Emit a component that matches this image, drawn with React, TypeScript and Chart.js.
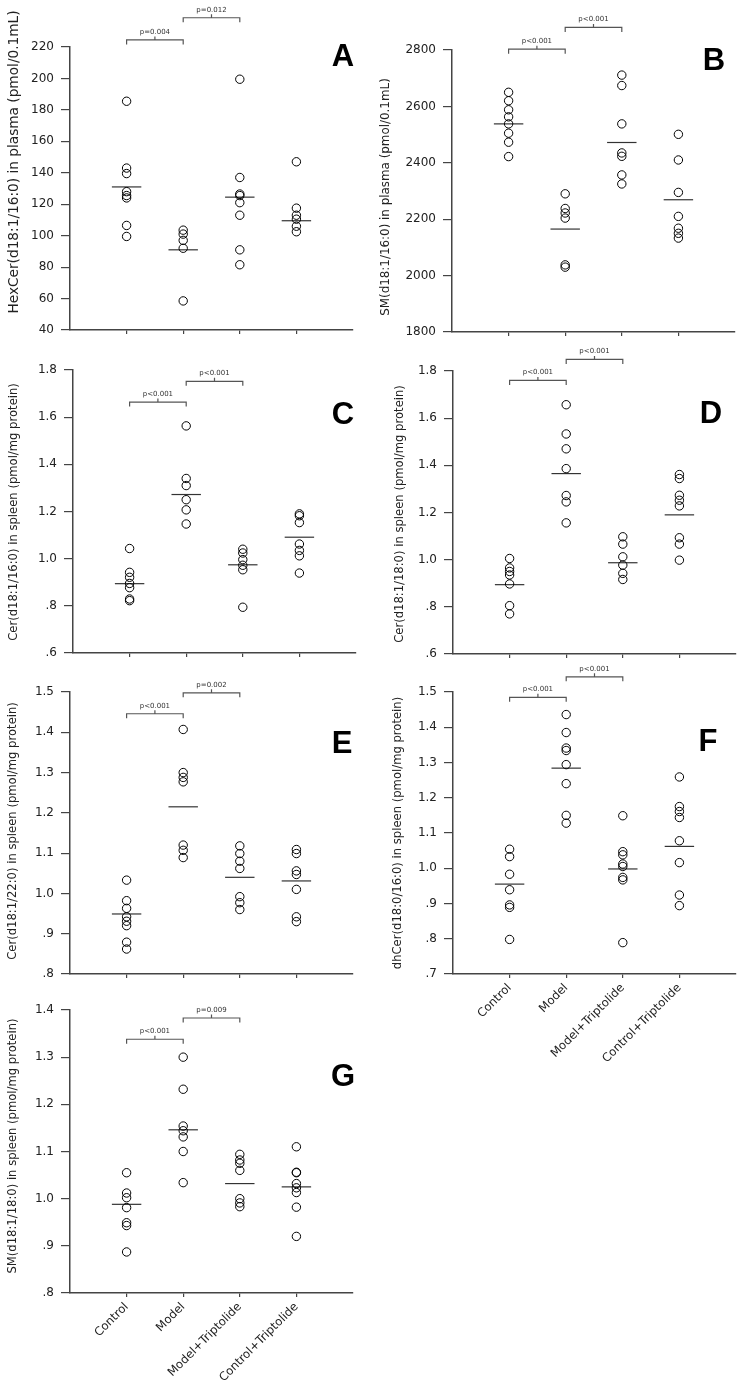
import React, { useEffect, useRef } from "react";
import { Chart, registerables } from "chart.js";

Chart.register(...registerables);

const GROUPS = ["Control", "Model", "Model+Triptolide", "Control+Triptolide"];

// Panel A: HexCer(d18:1/16:0) in plasma
const A_CONTROL = [185.5, 143, 139.5, 128, 125.5, 124, 106.5, 99.5];
const A_MODEL = [103.5, 101, 97, 92, 58.5];
const A_MODEL_TRIP = [199.5, 137, 126.5, 125.5, 121, 113, 91, 81.5];
const A_CONTROL_TRIP = [147, 117.5, 113, 110.5, 106, 102.5];
const A_MEANS = [131, 91, 124.5, 109.5];
const A_P = ["p=0.004", "p=0.012"];
const A_BRACKET_LEVELS = [224.5, 238.6];

// Panel B: SM(d18:1/16:0) in plasma
const B_CONTROL = [2650, 2620, 2588, 2563, 2538, 2505, 2473, 2422];
const B_MODEL = [2290, 2238, 2222, 2204, 2038, 2030];
const B_MODEL_TRIP = [2711, 2674, 2538, 2435, 2423, 2357, 2325];
const B_CONTROL_TRIP = [2501, 2410, 2295, 2210, 2168, 2150, 2133];
const B_MEANS = [2538, 2165, 2472, 2269];
const B_P = ["p<0.001", "p<0.001"];
const B_BRACKET_LEVELS = [2803, 2880];

// Panel C: Cer(d18:1/16:0) in spleen
const C_CONTROL = [1.043, 0.942, 0.921, 0.895, 0.877, 0.829, 0.822];
const C_MODEL = [1.563, 1.34, 1.31, 1.25, 1.207, 1.147];
const C_MODEL_TRIP = [1.04, 1.024, 0.996, 0.972, 0.953, 0.794];
const C_CONTROL_TRIP = [1.19, 1.182, 1.153, 1.062, 1.035, 1.012, 0.939];
const C_MEANS = [0.894, 1.272, 0.974, 1.091];
const C_P = ["p<0.001", "p<0.001"];
const C_BRACKET_LEVELS = [1.664, 1.752];

// Panel D: Cer(d18:1/18:0) in spleen
const D_CONTROL = [1.005, 0.965, 0.95, 0.935, 0.897, 0.805, 0.77];
const D_MODEL = [1.657, 1.533, 1.47, 1.386, 1.272, 1.245, 1.156];
const D_MODEL_TRIP = [1.097, 1.066, 1.012, 0.977, 0.942, 0.916];
const D_CONTROL_TRIP = [1.361, 1.344, 1.273, 1.252, 1.228, 1.093, 1.066, 0.998];
const D_MEANS = [0.894, 1.365, 0.987, 1.19];
const D_P = ["p<0.001", "p<0.001"];
const D_BRACKET_LEVELS = [1.76, 1.849];

// Panel E: Cer(d18:1/22:0) in spleen
const E_CONTROL = [1.033, 0.982, 0.963, 0.942, 0.931, 0.92, 0.879, 0.862];
const E_MODEL = [1.407, 1.3, 1.288, 1.277, 1.12, 1.107, 1.089];
const E_MODEL_TRIP = [1.118, 1.099, 1.08, 1.062, 0.992, 0.977, 0.96];
const E_CONTROL_TRIP = [1.109, 1.099, 1.056, 1.047, 1.01, 0.942, 0.93];
const E_MEANS = [0.949, 1.215, 1.04, 1.031];
const E_P = ["p<0.001", "p=0.002"];
const E_BRACKET_LEVELS = [1.446, 1.498];

// Panel F: dhCer(d18:0/16:0) in spleen
const F_CONTROL = [1.054, 1.033, 0.983, 0.939, 0.896, 0.889, 0.798];
const F_MODEL = [1.436, 1.385, 1.341, 1.334, 1.294, 1.24, 1.15, 1.128];
const F_MODEL_TRIP = [1.149, 1.047, 1.038, 1.012, 1.005, 0.974, 0.967, 0.789];
const F_CONTROL_TRIP = [1.259, 1.175, 1.161, 1.144, 1.078, 1.016, 0.924, 0.894];
const F_MEANS = [0.955, 1.284, 0.998, 1.062];
const F_P = ["p<0.001", "p<0.001"];
const F_BRACKET_LEVELS = [1.485, 1.543];

// Panel G: SM(d18:1/18:0) in spleen
const G_CONTROL = [1.055, 1.012, 1.002, 0.981, 0.949, 0.943, 0.887];
const G_MODEL = [1.3, 1.232, 1.154, 1.144, 1.131, 1.1, 1.034];
const G_MODEL_TRIP = [1.094, 1.082, 1.075, 1.06, 1.0, 0.991, 0.983];
const G_CONTROL_TRIP = [1.11, 1.056, 1.055, 1.032, 1.023, 1.013, 0.982, 0.92];
const G_MEANS = [0.988, 1.146, 1.032, 1.025];
const G_P = ["p<0.001", "p=0.009"];
const G_BRACKET_LEVELS = [1.338, 1.383];

type Panel = {
  letter: string;
  title: string;
  titleSize: number;
  groups: number[][];
  means: number[];
  pvals: string[];
  levels: number[];
  yMin: number;
  yMax: number;
  yStep: number;
  decimals: boolean;
  showX: boolean;
  box: { left: number; top: number; w: number; h: number };
  area: { l: number; t: number; r: number; b: number };
  titlePos: [number, number];
  letterPos: [number, number];
};

const PANELS: Panel[] = [
  {
    letter: "A",
    title: "HexCer(d18:1/16:0) in plasma (pmol/0.1mL)",
    titleSize: 13.7,
    groups: [A_CONTROL, A_MODEL, A_MODEL_TRIP, A_CONTROL_TRIP],
    means: A_MEANS, pvals: A_P, levels: A_BRACKET_LEVELS,
    yMin: 40, yMax: 220, yStep: 20, decimals: false, showX: false,
    box: { left: 0, top: 0, w: 371, h: 345 },
    area: { l: 70, t: 47, r: 353, b: 330 },
    titlePos: [14, 162], letterPos: [343, 57],
  },
  {
    letter: "B",
    title: "SM(d18:1/16:0) in plasma (pmol/0.1mL)",
    titleSize: 11.9,
    groups: [B_CONTROL, B_MODEL, B_MODEL_TRIP, B_CONTROL_TRIP],
    means: B_MEANS, pvals: B_P, levels: B_BRACKET_LEVELS,
    yMin: 1800, yMax: 2800, yStep: 200, decimals: false, showX: false,
    box: { left: 371, top: 0, w: 371, h: 345 },
    area: { l: 452, t: 50, r: 735, b: 332 },
    titlePos: [386, 197], letterPos: [714, 61],
  },
  {
    letter: "C",
    title: "Cer(d18:1/16:0) in spleen (pmol/mg protein)",
    titleSize: 11.6,
    groups: [C_CONTROL, C_MODEL, C_MODEL_TRIP, C_CONTROL_TRIP],
    means: C_MEANS, pvals: C_P, levels: C_BRACKET_LEVELS,
    yMin: 0.6, yMax: 1.8, yStep: 0.2, decimals: true, showX: false,
    box: { left: 0, top: 340, w: 371, h: 330 },
    area: { l: 73, t: 370, r: 356, b: 653 },
    titlePos: [14, 512], letterPos: [343, 415],
  },
  {
    letter: "D",
    title: "Cer(d18:1/18:0) in spleen (pmol/mg protein)",
    titleSize: 11.6,
    groups: [D_CONTROL, D_MODEL, D_MODEL_TRIP, D_CONTROL_TRIP],
    means: D_MEANS, pvals: D_P, levels: D_BRACKET_LEVELS,
    yMin: 0.6, yMax: 1.8, yStep: 0.2, decimals: true, showX: false,
    box: { left: 371, top: 340, w: 371, h: 330 },
    area: { l: 453, t: 371, r: 736, b: 654 },
    titlePos: [400, 514], letterPos: [711, 414],
  },
  {
    letter: "E",
    title: "Cer(d18:1/22:0) in spleen (pmol/mg protein)",
    titleSize: 11.6,
    groups: [E_CONTROL, E_MODEL, E_MODEL_TRIP, E_CONTROL_TRIP],
    means: E_MEANS, pvals: E_P, levels: E_BRACKET_LEVELS,
    yMin: 0.8, yMax: 1.5, yStep: 0.1, decimals: true, showX: false,
    box: { left: 0, top: 665, w: 371, h: 325 },
    area: { l: 70, t: 692, r: 353, b: 974 },
    titlePos: [13, 831], letterPos: [342, 744],
  },
  {
    letter: "F",
    title: "dhCer(d18:0/16:0) in spleen (pmol/mg protein)",
    titleSize: 11.6,
    groups: [F_CONTROL, F_MODEL, F_MODEL_TRIP, F_CONTROL_TRIP],
    means: F_MEANS, pvals: F_P, levels: F_BRACKET_LEVELS,
    yMin: 0.7, yMax: 1.5, yStep: 0.1, decimals: true, showX: true,
    box: { left: 371, top: 660, w: 371, h: 420 },
    area: { l: 453, t: 692, r: 736, b: 974 },
    titlePos: [398, 833], letterPos: [708, 742],
  },
  {
    letter: "G",
    title: "SM(d18:1/18:0) in spleen (pmol/mg protein)",
    titleSize: 11.6,
    groups: [G_CONTROL, G_MODEL, G_MODEL_TRIP, G_CONTROL_TRIP],
    means: G_MEANS, pvals: G_P, levels: G_BRACKET_LEVELS,
    yMin: 0.8, yMax: 1.4, yStep: 0.1, decimals: true, showX: true,
    box: { left: 0, top: 990, w: 371, h: 390 },
    area: { l: 70, t: 1010, r: 353, b: 1293 },
    titlePos: [12.5, 1146], letterPos: [343, 1077],
  },
];

const FONT = '"DejaVu Sans", "Liberation Sans", sans-serif';

function makeDecor(p: Panel) {
  return {
    id: "decor" + p.letter,
    afterDraw(chart: any) {
      const { ctx } = chart;
      const xs = chart.scales.x;
      const ys = chart.scales.y;
      ctx.save();
      // significance brackets
      p.levels.forEach((lvl, i) => {
        const x1 = xs.getPixelForValue(i);
        const x2 = xs.getPixelForValue(i + 1);
        const yy = ys.getPixelForValue(lvl);
        const xm = (x1 + x2) / 2;
        ctx.strokeStyle = "#555";
        ctx.lineWidth = 1.2;
        ctx.beginPath();
        ctx.moveTo(x1, yy + 4.5);
        ctx.lineTo(x1, yy);
        ctx.lineTo(x2, yy);
        ctx.lineTo(x2, yy + 4.5);
        ctx.moveTo(xm, yy);
        ctx.lineTo(xm, yy - 3.5);
        ctx.stroke();
        ctx.fillStyle = "#333";
        ctx.font = "7px " + FONT;
        ctx.textAlign = "center";
        ctx.textBaseline = "bottom";
        ctx.fillText(p.pvals[i], xm, yy - 4.5);
      });
      // panel letter
      const lx = p.letterPos[0] - p.box.left;
      const ly = p.letterPos[1] - p.box.top;
      ctx.fillStyle = "#000";
      ctx.font = 'bold 31px "Liberation Sans", Arial, sans-serif';
      ctx.textAlign = "center";
      ctx.textBaseline = "middle";
      ctx.fillText(p.letter, lx, ly);
      // y axis title
      const tx = p.titlePos[0] - p.box.left;
      const ty = p.titlePos[1] - p.box.top;
      ctx.translate(tx, ty);
      ctx.rotate(-Math.PI / 2);
      ctx.fillStyle = "#222";
      ctx.font = p.titleSize + "px " + FONT;
      ctx.textAlign = "center";
      ctx.textBaseline = "middle";
      ctx.fillText(p.title, 0, 0);
      ctx.restore();
    },
  };
}

function PanelChart({ p }: { p: Panel }) {
  const ref = useRef<HTMLCanvasElement>(null);
  useEffect(() => {
    if (!ref.current) return;
    const datasets: any[] = [];
    p.groups.forEach((vals, gi) => {
      datasets.push({
        label: GROUPS[gi],
        data: vals.map((v) => ({ x: gi, y: v })),
        pointRadius: 4.2,
        pointHoverRadius: 4.2,
        pointBorderWidth: 1,
        borderColor: "#000",
        backgroundColor: "rgba(0,0,0,0)",
        showLine: false,
      });
    });
    p.means.forEach((m, gi) => {
      datasets.push({
        label: GROUPS[gi] + " mean",
        data: [
          { x: gi - 0.26, y: m },
          { x: gi + 0.26, y: m },
        ],
        showLine: true,
        pointRadius: 0,
        borderColor: "#333",
        borderWidth: 1.2,
        backgroundColor: "#333",
      });
    });
    const fmt = (v: number) => {
      if (!p.decimals) return String(Math.round(v));
      const s = v.toFixed(1);
      return v < 1 ? s.replace(/^0/, "") : s;
    };
    const chart = new Chart(ref.current, {
      type: "scatter",
      data: { datasets },
      options: {
        animation: false,
        responsive: false,
        devicePixelRatio: 1,
        events: [],
        layout: {
          padding: {
            left: 0,
            top: p.area.t - p.box.top,
            right: p.box.left + p.box.w - p.area.r,
            bottom: 0,
          },
        },
        plugins: {
          legend: { display: false },
          tooltip: { enabled: false },
        },
        scales: {
          x: {
            type: "linear",
            min: -1,
            max: 4,
            afterBuildTicks: (s: any) => {
              s.ticks = [0, 1, 2, 3].map((v) => ({ value: v }));
            },
            afterFit: (s: any) => {
              s.height = p.box.top + p.box.h - p.area.b;
              s.paddingLeft = 0;
              s.paddingRight = 0;
            },
            border: { display: true, color: "#444", width: 1.5 },
            grid: {
              display: true,
              drawOnChartArea: false,
              drawTicks: true,
              tickLength: 4,
              color: "#444",
              lineWidth: 1.2,
            },
            ticks: {
              display: p.showX,
              autoSkip: false,
              maxRotation: 45,
              minRotation: 45,
              padding: 3,
              color: "#222",
              font: { family: FONT, size: 11.7 },
              callback: (v: any) => GROUPS[Number(v)] ?? "",
            },
          },
          y: {
            type: "linear",
            min: p.yMin,
            max: p.yMax,
            afterFit: (s: any) => {
              s.width = p.area.l - p.box.left;
              s.paddingTop = 0;
              s.paddingBottom = 0;
            },
            border: { display: true, color: "#444", width: 1.5 },
            grid: {
              display: true,
              drawOnChartArea: false,
              drawTicks: true,
              tickLength: 9,
              color: "#444",
              lineWidth: 1.2,
            },
            ticks: {
              stepSize: p.yStep,
              padding: 7,
              color: "#222",
              font: { family: FONT, size: 12 },
              callback: (v: any) => fmt(Number(v)),
            },
          },
        },
      },
      plugins: [makeDecor(p)],
    } as any);
    return () => chart.destroy();
  }, [p]);
  return (
    <canvas
      ref={ref}
      width={p.box.w}
      height={p.box.h}
      style={{
        position: "absolute",
        left: p.box.left,
        top: p.box.top,
        width: p.box.w,
        height: p.box.h,
      }}
    />
  );
}

export default function App() {
  return (
    <div
      style={{
        position: "absolute",
        left: 0,
        top: 0,
        width: 742,
        height: 1380,
        background: "#fff",
        overflow: "hidden",
      }}
    >
      {PANELS.map((p) => (
        <PanelChart key={p.letter} p={p} />
      ))}
    </div>
  );
}
